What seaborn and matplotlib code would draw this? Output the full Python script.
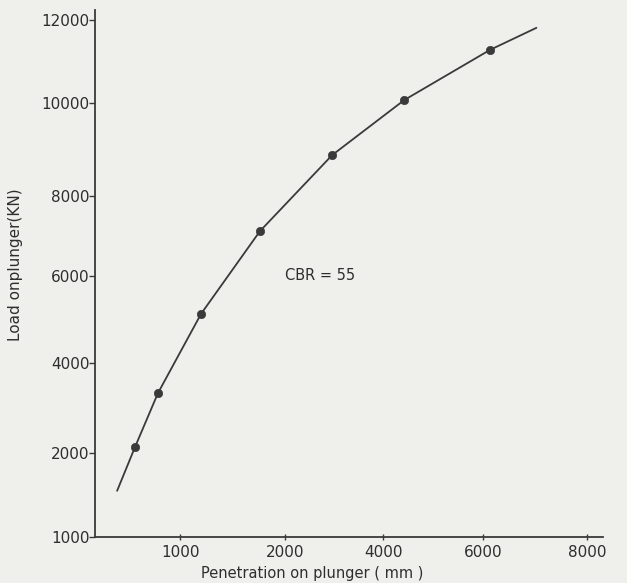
import numpy as np
import pandas as pd
import matplotlib
matplotlib.use("Agg")
import matplotlib.pyplot as plt
import seaborn as sns

# data
penetration = [470, 740, 1200, 1760, 2960, 4420, 6130]
load = [2130, 3330, 5130, 7120, 8880, 10070, 11280]
# ends of the drawn curve (no marker)
curve_start = (260, 1550)
curve_end = (7020, 11810)

x_ticks = [1000, 2000, 4000, 6000, 8000]
y_ticks = [1000, 2000, 4000, 6000, 8000, 10000, 12000]

# the hand drawn axes are not linear in their labels: map each labelled
# value onto where it sits along the axis
x_break_vals = [0, 1000, 2000, 4000, 6000, 8000, 10000]
x_break_pos = [0, 85, 190, 288, 388, 492, 596]
y_break_vals = [0, 1000, 2000, 4000, 6000, 8000, 10000, 12000, 14000]
y_break_pos = [-84, 0, 84, 174, 261, 341, 434, 517, 600]


def fwd(vals, pos):
    return lambda v: np.interp(v, vals, pos)


def inv(vals, pos):
    return lambda p: np.interp(p, pos, vals)


points = pd.DataFrame({"pen": penetration, "load": load})
curve = pd.DataFrame({
    "pen": [curve_start[0]] + penetration + [curve_end[0]],
    "load": [curve_start[1]] + load + [curve_end[1]],
})

sns.set_style("ticks")
plt.rcParams["font.family"] = ["DejaVu Sans"]

paper = "#efefec"
ink = "#3a3a3a"
txt = "#2e2e2e"

fig = plt.figure(figsize=(6.27, 5.83), dpi=100, facecolor=paper)
ax = fig.add_axes([95 / 627, 1 - 537 / 583, (603 - 95) / 627, (537 - 10) / 583])
ax.set_facecolor(paper)

ax.set_xscale("function", functions=(fwd(x_break_vals, x_break_pos), inv(x_break_vals, x_break_pos)))
ax.set_yscale("function", functions=(fwd(y_break_vals, y_break_pos), inv(y_break_vals, y_break_pos)))

sns.lineplot(data=curve, x="pen", y="load", ax=ax, color=ink, linewidth=1.3,
             sort=False, estimator=None, solid_joinstyle="round")
sns.scatterplot(data=points, x="pen", y="load", ax=ax, color=ink, s=36,
                edgecolor=ink, linewidth=0.5, zorder=3)

ax.set_xlim(0, 8300)
ax.set_ylim(1000, 12240)
ax.set_xticks(x_ticks)
ax.set_yticks(y_ticks)
ax.set_xticklabels([str(v) for v in x_ticks], fontsize=11, color=txt)
ax.set_yticklabels([str(v) for v in y_ticks], fontsize=11, color=txt)
ax.tick_params(axis="y", direction="out", length=4, width=1, color=ink, pad=0)
ax.tick_params(axis="x", direction="inout", length=5, width=1, color=ink, pad=3)

for side in ["top", "right"]:
    ax.spines[side].set_visible(False)
for side in ["left", "bottom"]:
    ax.spines[side].set_color(ink)
    ax.spines[side].set_linewidth(1.3)

ax.set_xlabel("Penetration on plunger ( mm )", fontsize=10.5, color=txt)
ax.set_ylabel("Load onplunger(KN)", fontsize=11, color=txt)
ax.xaxis.set_label_coords(0.427, -0.055)
ax.yaxis.set_label_coords(-0.142, 0.516)

ax.text(2000, 6000, "CBR = 55", fontsize=10.5, color=txt, ha="left", va="center")

fig.savefig("out.png", dpi=100, facecolor=paper)
